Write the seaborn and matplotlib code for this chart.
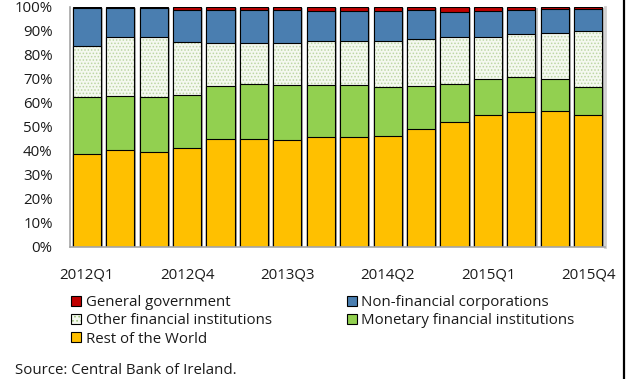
import numpy as np
import pandas as pd
import matplotlib
matplotlib.use("Agg")
import matplotlib.pyplot as plt
import seaborn as sns
from matplotlib.colors import to_rgba
from matplotlib.patches import Patch
from matplotlib.lines import Line2D
import matplotlib.patheffects as pe

# Quarterly shares of holdings by sector (% of total)
quarters = ["2012Q1", "2012Q2", "2012Q3", "2012Q4", "2013Q1", "2013Q2", "2013Q3", "2013Q4",
            "2014Q1", "2014Q2", "2014Q3", "2014Q4", "2015Q1", "2015Q2", "2015Q3", "2015Q4"]
rest_of_world = [38.7, 40.3, 39.6, 41.2, 44.8, 44.9, 44.5, 46.0, 45.8, 46.3, 49.1, 52.0, 55.1, 56.2, 56.6, 54.8]
monetary_fi = [24.0, 22.8, 22.9, 22.3, 22.2, 23.0, 23.0, 21.5, 21.9, 20.3, 18.1, 16.1, 15.0, 14.6, 13.6, 11.8]
other_fi = [21.0, 24.6, 24.8, 22.0, 18.2, 17.1, 17.7, 18.3, 18.1, 19.3, 19.6, 19.2, 17.6, 17.8, 18.9, 23.2]
non_fin_corp = [16.0, 12.0, 12.3, 13.3, 13.4, 13.6, 13.4, 12.7, 12.7, 12.6, 11.9, 10.7, 10.7, 10.1, 10.1, 9.4]
general_gov = [0.3, 0.3, 0.4, 1.2, 1.4, 1.4, 1.4, 1.5, 1.5, 1.5, 1.3, 2.0, 1.6, 1.3, 0.8, 0.8]
tick_labels = ["2012Q1", "2012Q4", "2013Q3", "2014Q2", "2015Q1", "2015Q4"]

series = ["Rest of the World", "Monetary financial institutions", "Other financial institutions",
          "Non-financial corporations", "General government"]
values = [rest_of_world, monetary_fi, other_fi, non_fin_corp, general_gov]
colors = {
    "General government": "#c00000",
    "Non-financial corporations": "#4a7eb0",
    "Other financial institutions": "#f4f8ef",
    "Monetary financial institutions": "#92d050",
    "Rest of the World": "#ffc000",
}
hatch_color = "#bcd6a4"

# Long table with the cumulative top of each stacked segment
tops = np.cumsum(np.array(values), axis=0)
df = pd.DataFrame([
    {"quarter": q, "series": s, "top": tops[i, j]}
    for i, s in enumerate(series) for j, q in enumerate(quarters)
])

sns.set_style("white")
plt.rcParams["font.family"] = ["Open Sans", "DejaVu Sans"]
plt.rcParams["hatch.linewidth"] = 0.7
FS = 10.8
TEXT = "#1a1a1a"

fig = plt.figure(figsize=(6.27, 3.79), dpi=100)
ax = fig.add_axes([70 / 627, 1 - 247 / 379, 535 / 627, 240 / 379])

# Draw from the tallest cumulative layer down so each segment shows its own slice
for k, s in enumerate(reversed(series)):
    n_before = len(ax.patches)
    sns.barplot(data=df[df["series"] == s], x="quarter", y="top", order=quarters,
                color=colors[s], saturation=1, width=0.84, edgecolor="black",
                linewidth=0.8, ax=ax, errorbar=None)
    new = ax.patches[n_before:]
    if k == 0:
        # soft drop shadow on the full-height bars
        for p in new:
            p.set_path_effects([pe.SimplePatchShadow(offset=(1.5, -1.0), shadow_rgbFace="#808080",
                                                     alpha=0.45), pe.Normal()])
    if s == "Other financial institutions":
        for p in new:
            p.set_hatch(".....")
            p._hatch_color = to_rgba(hatch_color)

ax.set_xlim(-0.5, len(quarters) - 0.5)
ax.set_ylim(0, 100)
ax.set_yticks(np.arange(0, 101, 10))
ax.set_yticklabels([f"{v}%" for v in range(0, 101, 10)], fontsize=FS, color=TEXT)
ax.set_xticks([quarters.index(t) for t in tick_labels])
ax.set_xticklabels(tick_labels, fontsize=FS, color=TEXT)
ax.set_xticks(np.arange(0.5, len(quarters) - 1, 1), minor=True)
ax.tick_params(axis="x", which="major", length=0, pad=14.5)
ax.tick_params(axis="x", which="minor", direction="in", length=3, color="#b0b0b0", width=0.8)
ax.tick_params(axis="y", direction="in", length=3, color="#b0b0b0", width=0.8, pad=12.5)
ax.set_xlabel("")
ax.set_ylabel("")
for side in ["left", "bottom"]:
    ax.spines[side].set_color("#a6a6a6")
    ax.spines[side].set_linewidth(1.2)
ax.spines["right"].set_color("#d0d0d0")
ax.spines["right"].set_linewidth(2.0)
ax.spines["top"].set_visible(False)

def swatch(s):
    if s == "Other financial institutions":
        h = Patch(facecolor=colors[s], edgecolor="black", linewidth=0.8, hatch="....")
        h._hatch_color = to_rgba("#9cc27c")
        return h
    return Patch(facecolor=colors[s], edgecolor="black", linewidth=0.8)

legend_order = ["General government", "Other financial institutions", "Rest of the World",
                "Non-financial corporations", "Monetary financial institutions"]
fig.legend(handles=[swatch(s) for s in legend_order], labels=legend_order,
           ncol=2, loc="upper left", bbox_to_anchor=(71 / 627, 1 - 295 / 379),
           frameon=False, fontsize=FS, handlelength=0.67, handleheight=0.67,
           handletextpad=0.3, columnspacing=5.0, labelspacing=0.22, borderpad=0,
           borderaxespad=0, labelcolor=TEXT)

fig.text(15 / 627, 1 - 370 / 379, "Source: Central Bank of Ireland.", fontsize=FS,
         va="center", ha="left", color=TEXT)

fig.add_artist(Line2D([623.5 / 627, 623.5 / 627], [0, 1], transform=fig.transFigure,
                      color="black", linewidth=1.6))

fig.savefig("out.png", dpi=100)
